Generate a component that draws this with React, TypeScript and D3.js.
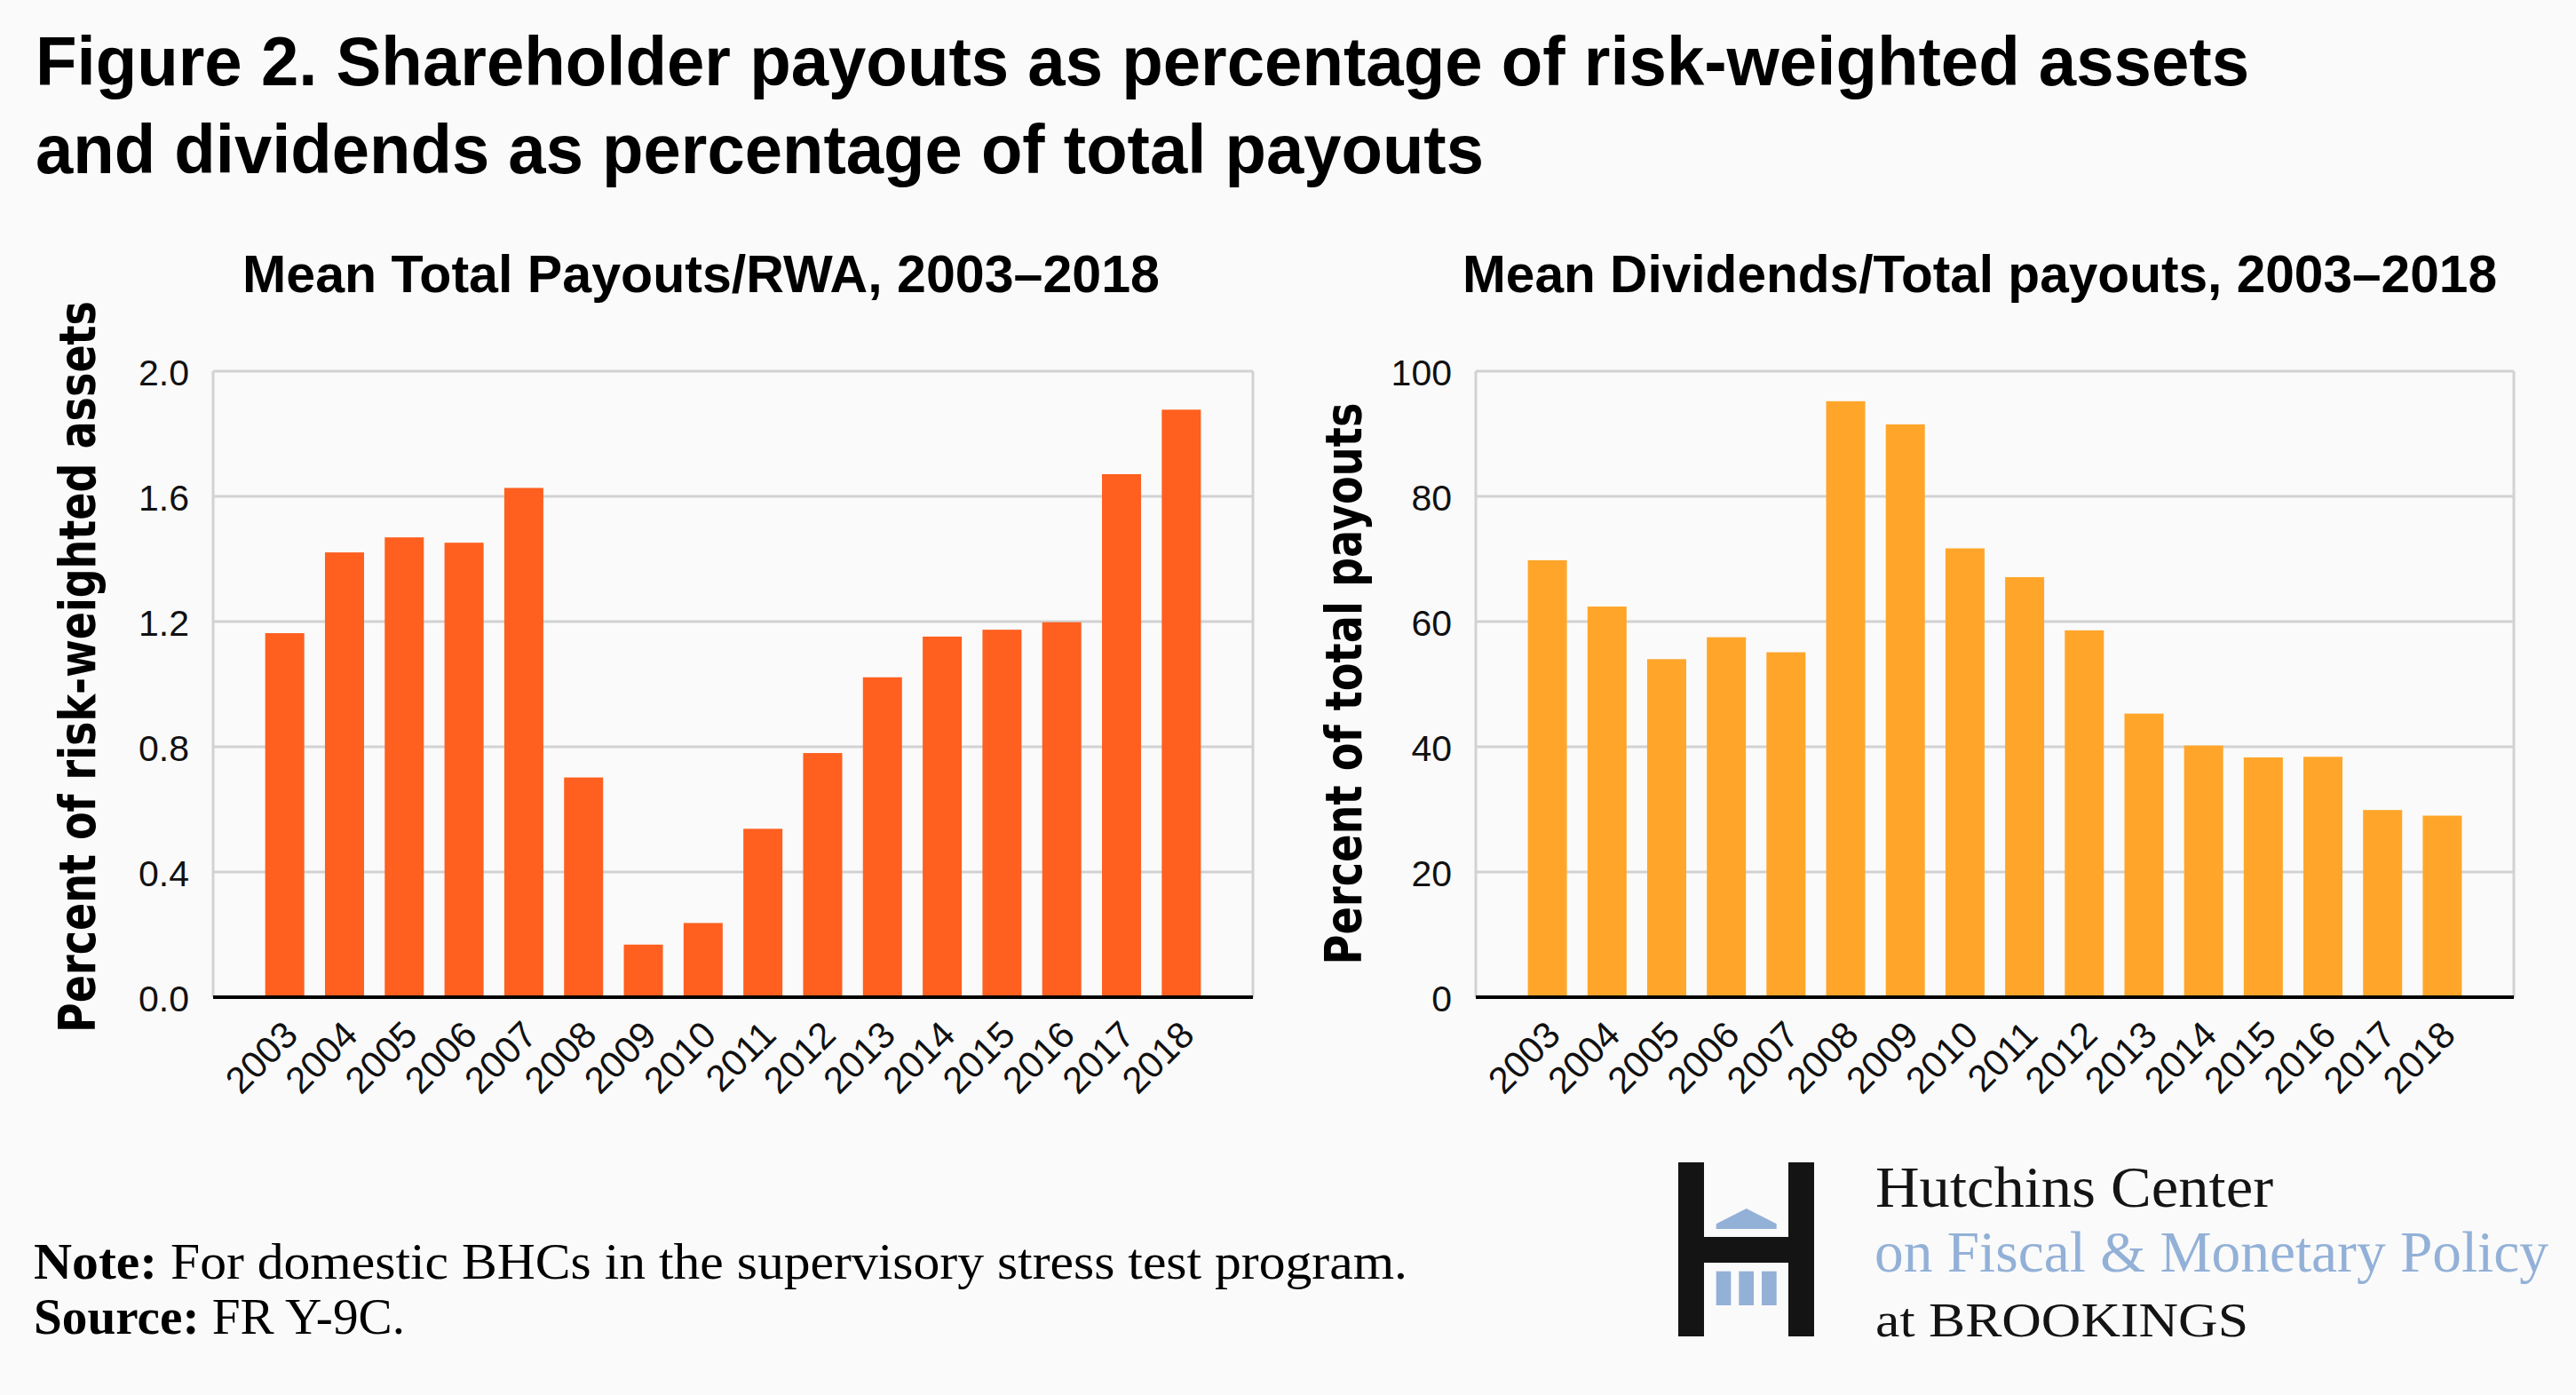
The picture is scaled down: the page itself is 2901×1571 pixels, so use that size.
import React from "react";
import * as d3 from "d3";

const years = ["2003","2004","2005","2006","2007","2008","2009","2010","2011","2012","2013","2014","2015","2016","2017","2018"];
const payoutsRWA = [1.163,1.421,1.469,1.452,1.627,0.702,0.168,0.237,0.538,0.780,1.022,1.152,1.174,1.198,1.671,1.877];
const dividendsShare = [69.8,62.4,54.0,57.5,55.1,95.2,91.5,71.7,67.1,58.6,45.3,40.2,38.3,38.4,29.9,29.0];
const leftTicks = [0, 0.4, 0.8, 1.2, 1.6, 2.0];
const rightTicks = [0, 20, 40, 60, 80, 100];

const titleLines = [
  "Figure 2. Shareholder payouts as percentage of risk-weighted assets",
  "and dividends as percentage of total payouts",
];

const W = 2901, H = 1571;
const TOP = 418, BOTTOM = 1123;
const TICK_FONT = "'Liberation Sans', Arial, sans-serif";
const SERIF = "'Liberation Serif', 'Times New Roman', serif";

function Panel({ left, right, values, ticks, max, fmt, color, subtitle, subX, subLen, yLabel, yLabelX, yLabelY, yLabelLen }: any) {
  const x = d3.scaleBand().domain(years).range([left + 47, right - 47]).paddingInner(0.345).paddingOuter(0.1725);
  const y = d3.scaleLinear().domain([0, max]).range([BOTTOM, TOP]);
  return (
    <g>
      <text x={subX} y={329} fontFamily={TICK_FONT} fontWeight={700} fontSize={59} textLength={subLen} lengthAdjust="spacingAndGlyphs" fill="#000">{subtitle}</text>
      {ticks.map((t: number) => (
        <line key={"g" + t} x1={left} x2={right} y1={y(t)} y2={y(t)} stroke="#d2d2d2" strokeWidth={3} />
      ))}
      <line x1={left} x2={left} y1={TOP} y2={BOTTOM} stroke="#d2d2d2" strokeWidth={3} />
      <line x1={right} x2={right} y1={TOP} y2={BOTTOM} stroke="#d2d2d2" strokeWidth={3} />
      {values.map((v: number, i: number) => {
        const cx = (x(years[i]) as number) + x.bandwidth() / 2;
        return <rect key={years[i]} x={cx - 22} width={44} y={y(v)} height={BOTTOM - y(v)} fill={color} />;
      })}
      <line x1={left} x2={right} y1={BOTTOM} y2={BOTTOM} stroke="#000" strokeWidth={4} />
      {ticks.map((t: number) => (
        <text key={"t" + t} x={left - 27} y={y(t) + 16} textAnchor="end" fontFamily={TICK_FONT} fontSize={41} fill="#111">{fmt(t)}</text>
      ))}
      {years.map((yr) => {
        const cx = (x(yr) as number) + x.bandwidth() / 2;
        return (
          <text key={"x" + yr} transform={`translate(${cx + 17},${BOTTOM + 45}) rotate(-45)`} textAnchor="end" fontFamily={TICK_FONT} fontSize={42} fill="#111">{yr}</text>
        );
      })}
      <text transform={`translate(${yLabelX},${yLabelY}) rotate(-90)`} textAnchor="middle" fontFamily="'DejaVu Sans', Verdana, sans-serif" fontWeight={700} fontSize={57} textLength={yLabelLen} lengthAdjust="spacingAndGlyphs" fill="#000">{yLabel}</text>
    </g>
  );
}

export default function App() {
  const blue = "#93b1d7";
  return (
    <svg width={W} height={H} style={{ position: "absolute", left: 0, top: 0, background: "#fafafa" }}>
      <rect x={0} y={0} width={W} height={H} fill="#fafafa" />
      <text x={40} y={96} fontFamily={TICK_FONT} fontWeight={700} fontSize={78} textLength={2493} lengthAdjust="spacingAndGlyphs">{titleLines[0]}</text>
      <text x={40} y={195} fontFamily={TICK_FONT} fontWeight={700} fontSize={78} textLength={1631} lengthAdjust="spacingAndGlyphs">{titleLines[1]}</text>

      <Panel left={240} right={1411} values={payoutsRWA} ticks={leftTicks} max={2} fmt={d3.format(".1f")} color="#ff5f1f"
        subtitle="Mean Total Payouts/RWA, 2003–2018" subX={273} subLen={1033}
        yLabel="Percent of risk-weighted assets" yLabelX={107} yLabelY={751} yLabelLen={824} />
      <Panel left={1662} right={2831} values={dividendsShare} ticks={rightTicks} max={100} fmt={d3.format("d")} color="#ffa62a"
        subtitle="Mean Dividends/Total payouts, 2003–2018" subX={1647} subLen={1165}
        yLabel="Percent of total payouts" yLabelX={1533} yLabelY={770} yLabelLen={633} />

      <text x={38} y={1440} fontFamily={SERIF} fontSize={58} fill="#000" textLength={1547} lengthAdjust="spacingAndGlyphs">
        <tspan fontWeight={700}>Note:</tspan> For domestic BHCs in the supervisory stress test program.
      </text>
      <text x={38} y={1502} fontFamily={SERIF} fontSize={58} fill="#000" textLength={418} lengthAdjust="spacingAndGlyphs">
        <tspan fontWeight={700}>Source:</tspan> FR Y-9C.
      </text>

      <g>
        <rect x={1890} y={1309} width={29} height={196} fill="#141414" />
        <rect x={2014} y={1309} width={29} height={196} fill="#141414" />
        <rect x={1919} y={1393} width={95} height={29} fill="#141414" />
        <polygon points="1932.7,1384 1932.7,1378.3 1966.7,1361 2000.7,1378.3 2000.7,1384" fill={blue} />
        <rect x={1932.7} y={1431.7} width={16.6} height={38.3} fill={blue} />
        <rect x={1958.3} y={1431.7} width={16.7} height={38.3} fill={blue} />
        <rect x={1984} y={1431.7} width={16.7} height={38.3} fill={blue} />
        <text x={2112} y={1359} fontFamily={SERIF} fontSize={66} fill="#141414" textLength={448} lengthAdjust="spacingAndGlyphs">Hutchins Center</text>
        <text x={2111} y={1432} fontFamily={SERIF} fontSize={66} fill={blue} textLength={759} lengthAdjust="spacingAndGlyphs">on Fiscal &amp; Monetary Policy</text>
        <text x={2112} y={1505} fontFamily={SERIF} fontSize={54} fill="#141414" textLength={420} lengthAdjust="spacingAndGlyphs">at BROOKINGS</text>
      </g>
    </svg>
  );
}
